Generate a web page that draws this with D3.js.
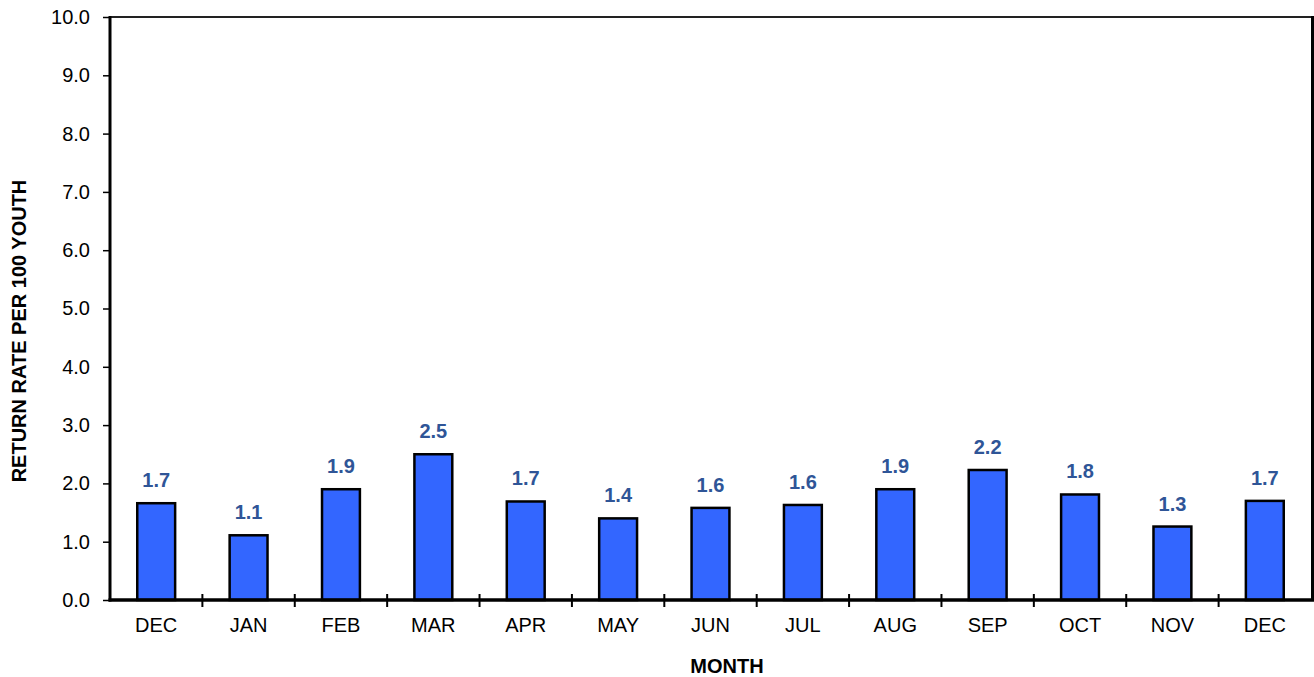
<!DOCTYPE html>
<html><head><meta charset="utf-8">
<script src="https://cdn.jsdelivr.net/npm/d3@7"></script>
<style>body{margin:0;background:#fff;}svg{display:block;}</style>
</head><body>
<svg id="c" width="1314" height="677"></svg>
<script>
const months = ["DEC","JAN","FEB","MAR","APR","MAY","JUN","JUL","AUG","SEP","OCT","NOV","DEC"];
const rates = [1.66,1.11,1.90,2.50,1.69,1.40,1.58,1.63,1.90,2.23,1.81,1.26,1.70];
const yTicks = [0,1,2,3,4,5,6,7,8,9,10];

const FONT = "Arial, 'Liberation Sans', sans-serif";
const svg = d3.select("#c");
const L = 110, R = 1311, T = 17, B = 600;
const x = d3.scaleBand().domain(d3.range(months.length)).range([L, R]).paddingInner(0.59).paddingOuter(0.295);
const xb = d3.scaleLinear().domain([0, months.length]).range([L, R]);
const y = d3.scaleLinear().domain([0, 10]).range([B, T]);

// top & right borders
svg.append("line").attr("x1", L).attr("x2", R+2).attr("y1", T).attr("y2", T).attr("stroke", "#222").attr("stroke-width", 2);
svg.append("line").attr("x1", R+1.5).attr("x2", R+1.5).attr("y1", T-1).attr("y2", B).attr("stroke", "#000").attr("stroke-width", 3);

// bars
svg.append("g").selectAll("rect").data(rates).join("rect")
  .attr("x", (d,i) => x(i)).attr("width", x.bandwidth())
  .attr("y", d => y(d)).attr("height", d => B - y(d))
  .attr("fill", "#3366FF").attr("stroke", "#000").attr("stroke-width", 2.5);

// value labels
svg.append("g").selectAll("text").data(rates).join("text")
  .attr("x", (d,i) => x(i) + x.bandwidth()/2).attr("y", d => y(d) - 16)
  .attr("text-anchor", "middle").attr("font-family", FONT)
  .attr("font-weight", "bold").attr("font-size", 20).attr("fill", "#2F5597")
  .text(d => d3.format(".1f")(d));

// y axis
const ya = d3.axisLeft(y).tickValues(yTicks).tickSize(7).tickPadding(13).tickFormat(d3.format(".1f"));
const gy = svg.append("g").attr("transform", `translate(${L},0)`).call(ya);
gy.select(".domain").attr("stroke", "#000").attr("stroke-width", 3).attr("d", `M0,${T-1}V${B+1.5}`);
gy.selectAll(".tick line").attr("stroke", "#000").attr("stroke-width", 1.5);
gy.selectAll(".tick text").attr("font-family", FONT).attr("font-size", 20).attr("fill", "#000");

// x axis (boundary ticks)
const gx = svg.append("g").attr("transform", `translate(0,${B})`);
gx.append("line").attr("x1", L-1.5).attr("x2", R+3).attr("y1", 0).attr("y2", 0).attr("stroke", "#000").attr("stroke-width", 3.5);
gx.selectAll(".bt").data(d3.range(1, months.length)).join("line").attr("class","bt")
  .attr("x1", d => xb(d)).attr("x2", d => xb(d)).attr("y1", -6).attr("y2", 7)
  .attr("stroke", "#000").attr("stroke-width", 2);
gx.selectAll(".ml").data(months).join("text").attr("class","ml")
  .attr("x", (d,i) => x(i) + x.bandwidth()/2).attr("y", 32)
  .attr("text-anchor", "middle").attr("font-family", FONT)
  .attr("font-size", 20).attr("fill", "#000").text(d => d);

// axis titles
svg.append("text").attr("x", 727).attr("y", 673).attr("text-anchor", "middle")
  .attr("font-family", FONT).attr("font-weight", "bold").attr("font-size", 20)
  .text("MONTH");
svg.append("text").attr("transform", "translate(26,331) rotate(-90)").attr("text-anchor", "middle")
  .attr("font-family", FONT).attr("font-weight", "bold").attr("font-size", 20)
  .text("RETURN RATE PER 100 YOUTH");
</script>
</body></html>
